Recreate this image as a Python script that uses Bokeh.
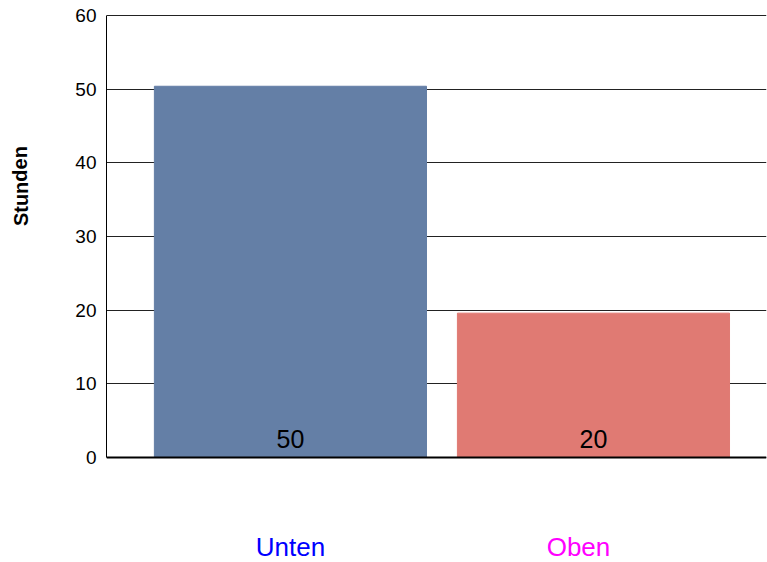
from bokeh.plotting import figure
from bokeh.layouts import row
from bokeh.models import ColumnDataSource, Label, Span, Range1d, FixedTicker, NumeralTickFormatter
from bokeh.embed import file_html
from bokeh.resources import INLINE

# Hours per position
categories = ["Unten", "Oben"]
hours = [50.4, 19.6]
bar_colors = ["#647FA6", "#E07A73"]
label_colors = ["#0000FF", "#FF00FF"]
y_ticks = [0, 10, 20, 30, 40, 50, 60]
y_title = "Stunden"

xs = list(range(len(categories)))
src = ColumnDataSource(dict(
    x=xs,
    top=hours,
    color=bar_colors,
    label=[f"{round(h)}" for h in hours],
))

FONT = "Liberation Sans"

# narrow strip on the left carrying the y axis title
side = figure(
    width=40, height=562,
    x_range=Range1d(0, 40), y_range=Range1d(0, 562),
    output_backend="svg", toolbar_location=None,
    min_border=0,
)
side.outline_line_color = None
side.axis.visible = False
side.grid.visible = False
side.add_layout(Label(x=20, y=386, text=y_title, angle=1.5708,
                      text_align="center", text_baseline="middle",
                      text_font=FONT, text_font_style="bold",
                      text_font_size="20px", text_color="black"))

# main bar chart; the frame runs down to the category names
p = figure(
    width=727, height=562,
    x_range=Range1d(-0.607, 1.571),
    y_range=Range1d(-14.25, 60.14),
    output_backend="svg", toolbar_location=None,
    min_border_left=66, min_border_right=1,
    min_border_top=14, min_border_bottom=0,
)
p.outline_line_color = None
p.background_fill_color = "white"

p.vbar(x="x", top="top", width=0.898, color="color", source=src)

# value labels at the foot of each bar
for x, lab in zip(xs, src.data["label"]):
    p.add_layout(Label(x=x, y=0, y_offset=10, text=lab, text_align="center",
                       text_baseline="bottom", text_font=FONT,
                       text_font_size="25px", text_color="black"))

# category names below the baseline
name_shift = [0, -15]
for x, name, col, dx in zip(xs, categories, label_colors, name_shift):
    p.add_layout(Label(x=x, y=0, x_offset=dx, y_offset=-89, text=name,
                       text_align="center", text_baseline="middle",
                       text_font=FONT, text_font_size="26px", text_color=col))

p.xaxis.visible = False
p.xgrid.visible = False

p.yaxis.ticker = FixedTicker(ticks=y_ticks)
p.yaxis.bounds = (0, 60)
p.yaxis.formatter = NumeralTickFormatter(format="0")
p.yaxis.major_tick_out = 0
p.yaxis.major_tick_in = 0
p.yaxis.minor_tick_line_color = None
p.yaxis.axis_line_color = "black"
p.yaxis.axis_line_width = 1
p.yaxis.major_label_text_font = FONT
p.yaxis.major_label_text_font_size = "19px"
p.yaxis.major_label_text_color = "black"
p.yaxis.major_label_standoff = 10

p.ygrid.grid_line_color = "#222222"
p.ygrid.grid_line_width = 1
p.ygrid.bounds = (0, 60)
p.ygrid.level = "underlay"

p.add_layout(Span(location=0, dimension="width", line_color="black", line_width=2))

layout = row(side, p, spacing=0)
open("out.html", "w").write(file_html(layout, INLINE))
